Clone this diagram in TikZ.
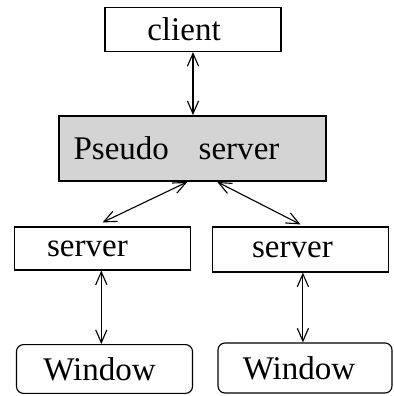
\documentclass[tikz,border=0pt]{standalone}
\usepackage{fontspec}
\setmainfont{Liberation Serif}
\usetikzlibrary{positioning,arrows.meta}

\begin{document}
\begin{tikzpicture}[x=0.025cm,y=-0.025cm,>={Straight Barb[length=3.2mm,width=2.8mm]},
    font=\fontsize{23.5}{26}\selectfont]
    \tikzset{
        box/.style={draw,line width=0.8pt,minimum width=4.4cm,minimum height=1.1cm,inner sep=0pt},
        pseudobox/.style={box,fill=black!17,line width=1.3pt,minimum width=6.675cm,minimum height=1.625cm},
        winbox/.style={box,rounded corners=5pt,minimum height=1.22cm},
        link/.style={<->,line width=0.8pt}
    }
    \useasboundingbox (0,0) rectangle (394,396);
    \fill[white] (0,0) rectangle (394,396);

    % kotak-kotak
    \node[box] (client) at (193,29.5) {client\kern0.45cm};
    \node[pseudobox] (pseudo) at (192.5,148.5) {Pseudo\hspace{0.9em}server\kern0.8cm};
    \node[box,minimum height=1.075cm] (lserver) at (102.5,248.5) {server\kern0.75cm};
    \node[box,minimum height=1.125cm] (rserver) at (300.5,249.5) {server\kern0.4cm};
    \node[winbox] (lwin) at (104.5,369) {Window\kern0.25cm};
    \node[winbox,minimum width=4.35cm,minimum height=1.25cm] (rwin) at (305,368) {Window\kern0.3cm};

    % panah dua arah
    \draw[link] (client.south) -- (pseudo.north -| client.south);
    \draw[link] ([xshift=-0.13cm]pseudo.south) -- ([yshift=0.1cm]lserver.north);
    \draw[link] ([xshift=0.62cm]pseudo.south) -- ([yshift=0.05cm]rserver.north);
    \draw[link] ([xshift=-0.03cm]lserver.south) -- ([xshift=-0.03cm]lserver.south |- lwin.north);
    \draw[link] ([xshift=0.06cm]rserver.south) -- ([xshift=0.06cm]rserver.south |- rwin.north);
\end{tikzpicture}
\end{document}
